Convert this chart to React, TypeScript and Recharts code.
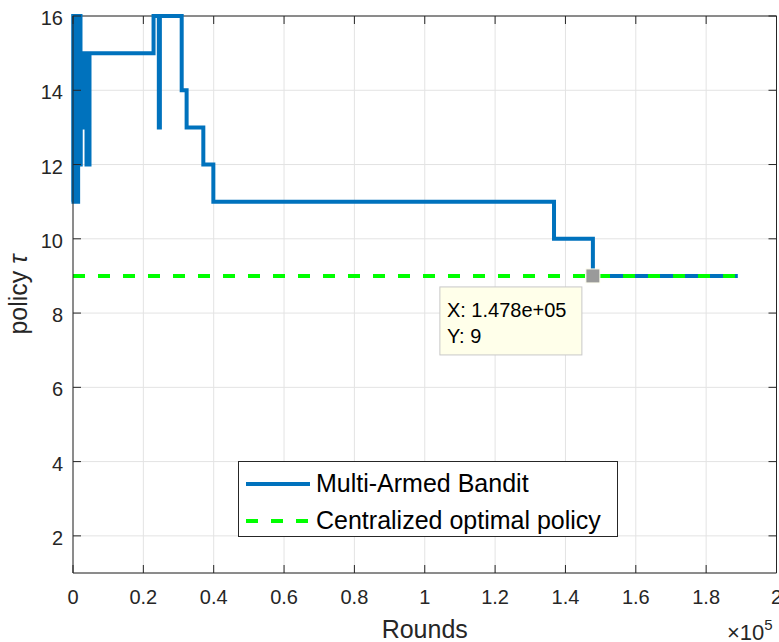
import { LineChart, Line, XAxis, YAxis, CartesianGrid, Legend, ReferenceLine, ReferenceDot } from 'recharts'

// rounds at which the bandit's chosen policy changes, and the policy it switches to
const mabRounds = [
  0, 60, 130, 200, 260, 330, 400, 460, 530, 600, 660, 730, 800, 860, 930, 1000, 1060, 1130, 1200,
  1260, 1330, 1400, 1460, 1530, 1600, 1660, 1730, 1800, 1860, 1930, 2000, 2060, 2130, 2200,
  3150, 3250, 3840, 4690, 22900, 24400, 24700, 30900, 32300, 37050, 39900, 136750, 147800, 189000,
]
const mabPolicy = [
  11, 16, 11, 15, 16, 12, 16, 11, 14, 16, 11, 16, 12, 16, 11, 15, 16, 11, 16,
  13, 16, 11, 16, 12, 16, 15, 12, 16, 12, 15, 12, 16, 12, 15,
  13, 15, 12, 15, 16, 13, 16, 14, 13, 12, 11, 10, 9, 9,
]
const optRounds = [0, 189000]
const optPolicy = [9, 9]

const seriesNames = ['Multi-Armed Bandit', 'Centralized optimal policy']

const xTicks = [0, 20000, 40000, 60000, 80000, 100000, 120000, 140000, 160000, 180000, 200000]
const yTicks = [2, 4, 6, 8, 10, 12, 14, 16]

const tipRound = 147800
const tipPolicy = 9

const mabData = mabRounds.map((x, i) => ({ x, y: mabPolicy[i] }))
const optData = optRounds.map((x, i) => ({ x, y: optPolicy[i] }))

const W = 779
const H = 642
const LEFT = 73
const TOP = 16
const RIGHT = 776.5
const BOTTOM = 573
const INK = '#262626'
const FONT = '"Liberation Sans", Arial, Helvetica, sans-serif'

const fmtX = (v: number) => String(Number((v / 1e5).toFixed(1)))

function XTick({ x, y, payload }: any) {
  return (
    <g>
      <line x1={x} y1={y} x2={x} y2={y - 8} stroke={INK} />
      <line x1={x} y1={TOP} x2={x} y2={TOP + 8} stroke={INK} />
      <text x={x} y={y + 31} textAnchor="middle" fontSize={20} fill={INK} fontFamily={FONT}>
        {fmtX(payload.value)}
      </text>
    </g>
  )
}

function YTick({ x, y, payload }: any) {
  return (
    <g>
      <line x1={x} y1={y} x2={x + 8} y2={y} stroke={INK} />
      <line x1={RIGHT} y1={y} x2={RIGHT - 8} y2={y} stroke={INK} />
      <text x={x - 10} y={y + 9} textAnchor="end" fontSize={20} fill={INK} fontFamily={FONT}>
        {payload.value}
      </text>
    </g>
  )
}

function XLabel() {
  return (
    <g fontFamily={FONT} fill={INK}>
      <text x={(LEFT + RIGHT) / 2} y={638} textAnchor="middle" fontSize={25}>
        Rounds
      </text>
      <text x={727} y={640} fontSize={22}>
        ×10<tspan dy={-10} fontSize={15}>5</tspan>
      </text>
    </g>
  )
}

function YLabel() {
  const cx = 27
  const cy = (TOP + BOTTOM) / 2
  return (
    <text
      x={cx}
      y={cy}
      transform={`rotate(-90, ${cx}, ${cy})`}
      textAnchor="middle"
      fontSize={25}
      fill={INK}
      fontFamily={FONT}
    >
      policy <tspan fontStyle="italic">τ</tspan>
    </text>
  )
}

function DataTip({ cx, cy }: any) {
  const xs = tipRound.toExponential(3).replace(/e\+(\d)$/, 'e+0$1')
  return (
    <g fontFamily={FONT} fontSize={20} fill="#000">
      <rect x={cx - 7} y={cy - 7} width={14} height={14} fill="#9a9a9a" stroke="#fffff0" />
      <rect x={cx - 153} y={cy + 11} width={142} height={68} fill="#ffffea" stroke="#c8c8c8" />
      <text x={cx - 146} y={cy + 41}>X: {xs}</text>
      <text x={cx - 146} y={cy + 67}>Y: {tipPolicy}</text>
    </g>
  )
}

function LegendBox({ payload }: any) {
  const items = [...(payload || [])].sort(
    (a: any, b: any) => seriesNames.indexOf(a.value) - seriesNames.indexOf(b.value)
  )
  return (
    <div
      style={{
        boxSizing: 'border-box',
        width: 380,
        height: 76,
        paddingTop: 3,
        border: `1px solid ${INK}`,
        background: '#fff',
        fontFamily: FONT,
        fontSize: 25,
        color: '#000',
      }}
    >
      {items.map((e: any) => (
        <div key={e.value} style={{ display: 'flex', alignItems: 'center', height: 37 }}>
          <svg width={64} height={8} style={{ marginLeft: 7, marginRight: 6 }}>
            <line
              x1={0}
              y1={4}
              x2={64}
              y2={4}
              stroke={e.color}
              strokeWidth={4}
              strokeDasharray={e.payload?.strokeDasharray}
            />
          </svg>
          <span>{e.value}</span>
        </div>
      ))}
    </div>
  )
}

export default function App() {
  return (
    <div style={{ position: 'absolute', left: 0, top: 0, width: W, height: H, background: '#fff' }}>
      <LineChart width={W} height={H} margin={{ top: TOP, right: W - RIGHT, bottom: 0, left: 0 }}>
        <CartesianGrid stroke="#e3e3e3" />
        <XAxis
          type="number"
          dataKey="x"
          domain={[0, 200000]}
          ticks={xTicks}
          interval={0}
          height={H - BOTTOM}
          tickSize={0}
          tickMargin={0}
          tickLine={false}
          tick={<XTick />}
          axisLine={{ stroke: INK }}
          label={XLabel}
        />
        <YAxis
          type="number"
          domain={[1, 16]}
          ticks={yTicks}
          interval={0}
          width={LEFT}
          tickSize={0}
          tickMargin={0}
          tickLine={false}
          tick={<YTick />}
          axisLine={{ stroke: INK }}
          label={YLabel}
        />
        <ReferenceLine y={16} stroke={INK} />
        <ReferenceLine x={200000} stroke={INK} />
        <Line
          data={mabData}
          dataKey="y"
          type="stepAfter"
          name={seriesNames[0]}
          stroke="#0072BD"
          strokeWidth={4}
          dot={false}
          activeDot={false}
          isAnimationActive={false}
        />
        <Line
          data={optData}
          dataKey="y"
          type="linear"
          name={seriesNames[1]}
          stroke="#00FF00"
          strokeWidth={4}
          strokeDasharray="12 13"
          dot={false}
          activeDot={false}
          isAnimationActive={false}
        />
        <ReferenceDot x={tipRound} y={tipPolicy} r={7} shape={DataTip} ifOverflow="visible" />
        <Legend
          verticalAlign="middle"
          align="center"
          layout="horizontal"
          wrapperStyle={{ left: 238, top: 461, width: 380, height: 76 }}
          content={LegendBox}
        />
      </LineChart>
    </div>
  )
}
